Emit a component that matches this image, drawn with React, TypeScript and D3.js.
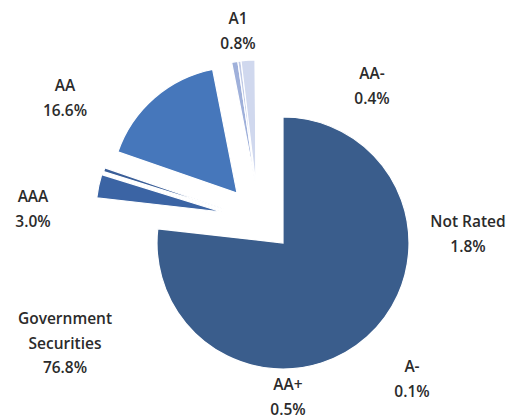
import React from 'react';
import * as d3 from 'd3';

// portfolio split by credit rating, clockwise from 12 o'clock
const categories = ['Government Securities', 'AAA', 'AA+', 'AA', 'A1', 'AA-', 'Not Rated', 'A-'];
const shares = [76.8, 3.0, 0.5, 16.6, 0.8, 0.4, 1.8, 0.1];

// label lines as printed on the chart
const labelLines = [
  ['Government', 'Securities', '76.8%'],
  ['AAA', '3.0%'],
  ['AA+', '0.5%'],
  ['AA', '16.6%'],
  ['A1', '0.8%'],
  ['AA-', '0.4%'],
  ['Not Rated', '1.8%'],
  ['A-', '0.1%'],
];

const width = 512;
const height = 420;
const cx = 283;
const cy = 243;
const radius = 126;

const colors: Record<string, string> = {
  'Government Securities': '#3a5d8c',
  AAA: '#3b64a4',
  'AA+': '#3a5e98',
  AA: '#4677bb',
  A1: '#9fb0da',
  'AA-': '#c0cae6',
  'Not Rated': '#d0d8ee',
  'A-': '#e0e6f4',
};

// how far each slice is pulled out of the pie
const explode: Record<string, [number, number]> = {
  'Government Securities': [0, 0],
  AAA: [-61, -31],
  'AA+': [-59, -34],
  AA: [-46, -50],
  A1: [-27, -57],
  'AA-': [-27, -57],
  'Not Rated': [-27, -57],
  'A-': [-27, -57],
};

// where the data labels sit (centre of the first line)
const labelPos: Record<string, [number, number]> = {
  'Government Securities': [65, 318],
  AAA: [33, 196],
  'AA+': [288, 384],
  AA: [65, 85],
  A1: [238, 18],
  'AA-': [372, 73],
  'Not Rated': [468, 221],
  'A-': [412, 366],
};

export default function App() {
  const data = categories.map((c, i) => ({ name: c, value: shares[i], lines: labelLines[i] }));
  const pie = d3.pie<{ name: string; value: number }>().sort(null).value(d => d.value);
  const arcs = pie(data);
  const arc = d3.arc<d3.PieArcDatum<{ name: string; value: number }>>()
    .innerRadius(0)
    .outerRadius(radius);

  return (
    <svg
      width={width}
      height={height}
      style={{ position: 'absolute', left: 0, top: 0, background: '#fff' }}
      fontFamily="'Open Sans', Lato, sans-serif"
    >
      <g transform={`translate(${cx},${cy})`}>
        {arcs.map(a => {
          const [dx, dy] = explode[a.data.name];
          return (
            <path
              key={a.data.name}
              d={arc(a) || ''}
              transform={`translate(${dx},${dy})`}
              fill={colors[a.data.name]}
              stroke="#fff"
              strokeWidth={1.2}
            />
          );
        })}
      </g>
      {data.map(d => {
        const [x, y] = labelPos[d.name];
        return (
          <text
            key={d.name}
            x={x}
            y={y}
            textAnchor="middle"
            dominantBaseline="central"
            fontSize={15.5}
            fontWeight={600}
            fill="#2b2b2b"
          >
            {d.lines.map((l, i) => (
              <tspan key={i} x={x} dy={i === 0 ? 0 : 24.5}>{l}</tspan>
            ))}
          </text>
        );
      })}
    </svg>
  );
}
